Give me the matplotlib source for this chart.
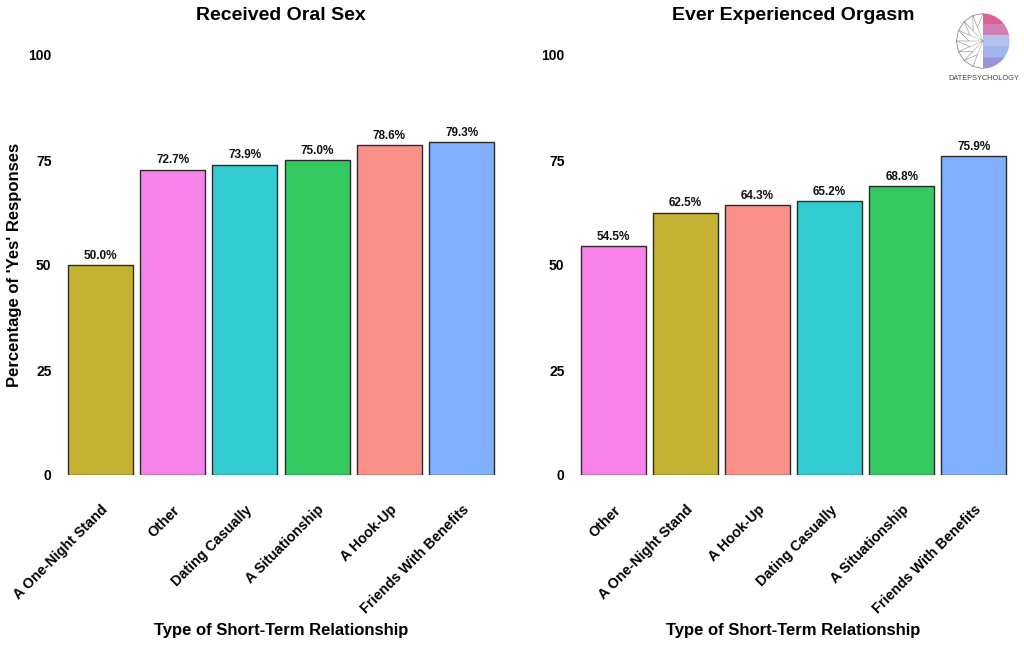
import numpy as np
import matplotlib.pyplot as plt
from matplotlib.patches import Polygon

plt.rcParams['font.family'] = ['Liberation Sans', 'DejaVu Sans']

# data
oral_cats = ['A One-Night Stand', 'Other', 'Dating Casually', 'A Situationship',
             'A Hook-Up', 'Friends With Benefits']
oral_vals = [50.0, 72.7, 73.9, 75.0, 78.6, 79.3]

orgasm_cats = ['Other', 'A One-Night Stand', 'A Hook-Up', 'Dating Casually',
               'A Situationship', 'Friends With Benefits']
orgasm_vals = [54.5, 62.5, 64.3, 65.2, 68.8, 75.9]

y_ticks = [0, 25, 50, 75, 100]

# ggplot hue colours at alpha 0.8 over white
colors = {
    'A One-Night Stand': '#C5B233',
    'Other': '#F783E9',
    'Dating Casually': '#33CCD0',
    'A Situationship': '#33C860',
    'A Hook-Up': '#F9918A',
    'Friends With Benefits': '#81B0FF',
}

W, H = 1024, 646
fig = plt.figure(figsize=(W / 100, H / 100), dpi=100)
ax1 = fig.add_axes([57 / W, 171 / H, 448 / W, 420 / H])
ax2 = fig.add_axes([570 / W, 171 / H, 447 / W, 420 / H])


def panel(ax, cats, vals, title, ylabel=None):
    x = np.arange(len(cats))
    ax.bar(x, vals, width=0.9, color=[colors[c] for c in cats],
           edgecolor='#2a2a2a', linewidth=1.0)
    for xi, v in zip(x, vals):
        ax.text(xi, v + 0.8, f'{v:.1f}%', ha='center', va='bottom',
                fontsize=8.5, fontweight='bold', color='#111111')
    ax.set_xlim(-0.6, len(cats) - 0.4)
    ax.set_ylim(0, 100)
    ax.set_yticks(y_ticks)
    ax.set_yticklabels([str(t) for t in y_ticks], fontsize=10, fontweight='bold')
    ax.set_xticks(x)
    ax.set_xticklabels(cats, rotation=45, ha='right', va='top',
                       rotation_mode='anchor', fontsize=10.3, fontweight='bold')
    ax.tick_params(length=0)
    ax.tick_params(axis='y', pad=4)
    ax.tick_params(axis='x', pad=20)
    for s in ax.spines.values():
        s.set_visible(False)
    ax.text(0.5, 1 + 40 / 420, title, transform=ax.transAxes, ha='center',
            va='center', fontsize=14, fontweight='bold')
    ax.text(0.5, -(631 - 475) / 420, 'Type of Short-Term Relationship',
            transform=ax.transAxes, ha='center', va='center',
            fontsize=12, fontweight='bold')
    if ylabel:
        ax.text(-42 / 448, 0.5, ylabel, transform=ax.transAxes, rotation=90,
                ha='center', va='center', fontsize=12, fontweight='bold')


panel(ax1, oral_cats, oral_vals, 'Received Oral Sex',
      "Percentage of 'Yes' Responses")
panel(ax2, orgasm_cats, orgasm_vals, 'Ever Experienced Orgasm')

# logo (rough)
lg = fig.add_axes([955 / W, (646 - 70) / H, 56 / W, 58 / H])
lg.set_xlim(-1, 1)
lg.set_ylim(-1, 1)
lg.axis('off')
t = np.linspace(np.pi / 2, 3 * np.pi / 2, 9)
px = 0.95 * np.cos(t)
py = 0.95 * np.sin(t)
inner_x = 0.5 * np.cos(t[1:-1])
inner_y = 0.5 * np.sin(t[1:-1])
lg.plot(px, py, color='#777777', lw=0.5)
for i in range(len(inner_x)):
    lg.plot([px[i], inner_x[i], px[i + 1]], [py[i], inner_y[i], py[i + 1]],
            color='#888888', lw=0.4)
    lg.plot([inner_x[i], 0], [inner_y[i], 0], color='#999999', lw=0.3)
rt = np.linspace(-np.pi / 2, np.pi / 2, 30)
shape_x = np.concatenate([[0], 0.95 * np.cos(rt), [0]])
shape_y = np.concatenate([[-0.95], 0.95 * np.sin(rt), [0.95]])
cols = ['#8c7fd6', '#8fa8e6', '#a7b7ea', '#c76aa8', '#d9477e']
for k, c in enumerate(cols):
    y0 = -0.95 + k * 0.38
    band = Polygon([[0, y0], [1, y0], [1, y0 + 0.4], [0, y0 + 0.4]],
                   facecolor=c, edgecolor='none', alpha=0.85)
    lg.add_patch(band)
    clip = Polygon(np.c_[shape_x, shape_y], transform=lg.transData)
    band.set_clip_path(clip)
fig.text(984 / W, 1 - 78 / H, 'DATEPSYCHOLOGY', ha='center', va='center',
         fontsize=5.3, color='#444444')

fig.savefig('out.png', dpi=100)
